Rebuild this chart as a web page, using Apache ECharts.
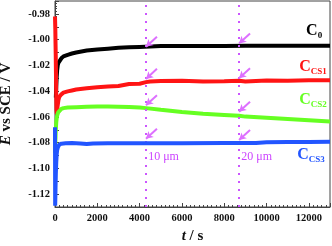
<!DOCTYPE html>
<html><head><meta charset="utf-8">
<script src="https://cdn.jsdelivr.net/npm/echarts@6/dist/echarts.min.js"></script>
<style>html,body{margin:0;padding:0;background:#fff}#c{width:332px;height:246px}</style>
</head><body><div id="c"></div>
<script>
// ---- data ----
const tC0 = [40, 60, 80, 100, 130, 160, 200, 300, 400, 600, 800, 1000, 1500, 2000, 2500, 3000, 3500, 4000, 4500, 5000, 6000, 7000, 8000, 9000, 10000, 11000, 12000, 13000];
const vC0 = [-1.045, -1.036, -1.029, -1.024, -1.020, -1.018, -1.0165, -1.0145, -1.013, -1.0118, -1.0108, -1.0100, -1.0085, -1.0076, -1.0070, -1.0064, -1.0060, -1.0057, -1.0054, -1.0050, -1.0050, -1.0049, -1.0049, -1.0048, -1.0048, -1.0048, -1.0047, -1.0047];

const tCS1 = [0, 15, 25, 35, 45, 55, 70, 90, 120, 160, 200, 300, 400, 600, 800, 1000, 1500, 2000, 2500, 3000, 3500, 4000, 4300, 4500, 5000, 6000, 7000, 8000, 8700, 9000, 10000, 11000, 12000, 13000];
const vCS1 = [-0.982, -0.992, -1.003, -1.012, -1.025, -1.040, -1.055, -1.058, -1.052, -1.047, -1.0445, -1.0425, -1.0412, -1.0402, -1.0395, -1.0388, -1.0378, -1.0370, -1.0365, -1.0360, -1.0345, -1.0343, -1.0330, -1.0325, -1.0322, -1.0320, -1.0325, -1.0323, -1.0320, -1.0325, -1.0318, -1.0320, -1.0316, -1.0316];

const tCS2 = [0, 10, 20, 30, 45, 60, 80, 100, 150, 200, 300, 400, 600, 1000, 1500, 2000, 2500, 3000, 3500, 4000, 4300, 5000, 6000, 7000, 8000, 8700, 9000, 10000, 11000, 12000, 13000];
const vCS2 = [-1.088, -1.083, -1.078, -1.073, -1.068, -1.064, -1.061, -1.059, -1.0565, -1.055, -1.0538, -1.0532, -1.0528, -1.0525, -1.0522, -1.0520, -1.0520, -1.0521, -1.0523, -1.0527, -1.0532, -1.0545, -1.0562, -1.0575, -1.0585, -1.0592, -1.0598, -1.0606, -1.0616, -1.0626, -1.0636];

const tCS3 = [0, 8, 15, 25, 40, 60, 80, 100, 130, 160, 200, 300, 500, 800, 1200, 1500, 1800, 2500, 4000, 6000, 8000, 9500, 10000, 11000, 12000, 13000];
const vCS3 = [-1.068, -1.129, -1.124, -1.115, -1.104, -1.095, -1.089, -1.086, -1.084, -1.0825, -1.0815, -1.0808, -1.0805, -1.0803, -1.0806, -1.0811, -1.0806, -1.0805, -1.0805, -1.0805, -1.0803, -1.0802, -1.0797, -1.0795, -1.0795, -1.0793];

const markTimes = [4300, 8700];           // dotted vertical lines
const markTexts = ['10 μm', '20 μm'];
const arrowTipsC0 = [[4300, -1.0055], [8700, -1.0030]];
const arrowTipsCS1 = [[4300, -1.0305], [8700, -1.0300]];
const arrowTipsCS2 = [[4300, -1.0510], [8700, -1.0560]];
const arrowTipsCS3 = [[4300, -1.0770], [8700, -1.0780]];

const seriesNames = ['C0', 'CCS1', 'CCS2', 'CCS3'];
const labelSubs = ['0', 'CS1', 'CS2', 'CS3'];
const labelPos = [[12250, -0.9933], [12200, -1.0213], [12200, -1.0469], [12100, -1.0897]];
const colors = ['#000000', '#ff1414', '#66ff22', '#2255ff'];
const yTickLabels = [-1.12, -1.10, -1.08, -1.06, -1.04, -1.02, -1.00, -0.98];

// ---- build ----
const serif = 'Liberation Serif, Times New Roman, serif';
const zip = (t, v) => t.map((x, i) => [x, v[i]]);
const arrowColor = '#dd70ff';
function arrows(tips) {
  return tips.map(p => [
    { coord: [p[0] + 520, p[1] + 0.0078] },
    { coord: [p[0], p[1]] }
  ]);
}
function mkSeries(idx, t, v, tips) {
  return {
    name: seriesNames[idx], type: 'line', data: zip(t, v), showSymbol: false,
    lineStyle: { width: 4, color: colors[idx] }, itemStyle: { color: colors[idx] },
    z: 2 + idx,
    markLine: {
      silent: true, symbol: ['none', 'arrow'], symbolSize: [6, 7],
      lineStyle: { color: arrowColor, width: 2, type: 'solid' },
      label: { show: false },
      data: arrows(tips)
    },
    markPoint: {
      silent: true, symbol: 'circle', symbolSize: 0,
      data: [{
        coord: labelPos[idx],
        label: {
          show: true, position: 'inside',
          formatter: '{a|C}{b|' + labelSubs[idx] + '}',
          rich: {
            a: { fontFamily: serif, fontWeight: 'bold', fontSize: 16, color: colors[idx] },
            b: { fontFamily: serif, fontWeight: 'bold', fontSize: 9, color: colors[idx], padding: [9, 0, 0, 0] }
          }
        }
      }]
    }
  };
}

const sBlue = mkSeries(3, tCS3, vCS3, arrowTipsCS3);
const sGreen = mkSeries(2, tCS2, vCS2, arrowTipsCS2);
const sRed = mkSeries(1, tCS1, vCS1, arrowTipsCS1);
const sBlack = mkSeries(0, tC0, vC0, arrowTipsC0);

// helper series for dotted lines and thickness labels
const sAnnot = {
  name: 'annot', type: 'line', data: [], z: 1,
  markLine: {
    silent: true, symbol: ['none', 'none'],
    lineStyle: { color: '#cc55ff', width: 2, type: [2, 6] },
    label: { show: false },
    data: markTimes.map(t => ({ xAxis: t }))
  },
  markPoint: {
    silent: true, symbol: 'circle', symbolSize: 0,
    data: markTimes.map((t, i) => ({
      coord: [t + 830, -1.0912],
      label: { show: true, position: 'inside', formatter: markTexts[i],
        fontFamily: serif, fontSize: 12, color: '#cc44ff' }
    }))
  }
};

const axisColor = '#444';
const option = {
  animation: false,
  grid: { left: 55, right: 2, top: 1, bottom: 39, show: true, borderColor: axisColor, borderWidth: 1,
    containLabel: false, outerBoundsMode: 'none' },
  xAxis: {
    type: 'value', min: 0, max: 13000, interval: 2000,
    axisLine: { lineStyle: { color: axisColor, width: 1 } },
    axisTick: { inside: true, length: 4, lineStyle: { color: axisColor } },
    minorTick: { show: true, splitNumber: 10, length: 2, lineStyle: { color: axisColor } },
    splitLine: { show: false },
    axisLabel: { fontFamily: serif, fontWeight: 'bold', fontSize: 10.5, color: '#111', margin: 6, showMaxLabel: false,
      formatter: v => String(Math.round(v)) },
    name: '{i|t} / s', nameLocation: 'middle', nameGap: 22,
    nameTextStyle: { fontFamily: serif, fontWeight: 'bold', fontSize: 15, color: '#111',
      rich: { i: { fontFamily: serif, fontWeight: 'bold', fontStyle: 'italic', fontSize: 15, color: '#111' } } }
  },
  yAxis: {
    type: 'value', min: -1.13, max: -0.97, interval: 0.01,
    axisLine: { show: true, lineStyle: { color: axisColor, width: 1 } },
    axisTick: { inside: true, length: 4, lineStyle: { color: axisColor } },
    minorTick: { show: true, splitNumber: 5, length: 2, lineStyle: { color: axisColor } },
    splitLine: { show: false },
    axisLabel: {
      fontFamily: serif, fontWeight: 'bold', fontSize: 10.5, color: '#111', margin: 5, interval: 0,
      formatter: v => {
        const hit = yTickLabels.find(x => Math.abs(x - v) < 1e-6);
        return hit === undefined ? '' : hit.toFixed(2);
      }
    },
    name: '{i|E} vs SCE / V', nameLocation: 'middle', nameGap: 41, nameRotate: 90,
    nameTextStyle: { fontFamily: serif, fontWeight: 'bold', fontSize: 15, color: '#111',
      rich: { i: { fontFamily: serif, fontWeight: 'bold', fontStyle: 'italic', fontSize: 15, color: '#111' } } }
  },
  series: [sAnnot, sBlue, sGreen, sRed, sBlack]
};
const chart = echarts.init(document.getElementById('c'), null, { renderer: 'canvas' });
chart.setOption(option);
</script></body></html>
